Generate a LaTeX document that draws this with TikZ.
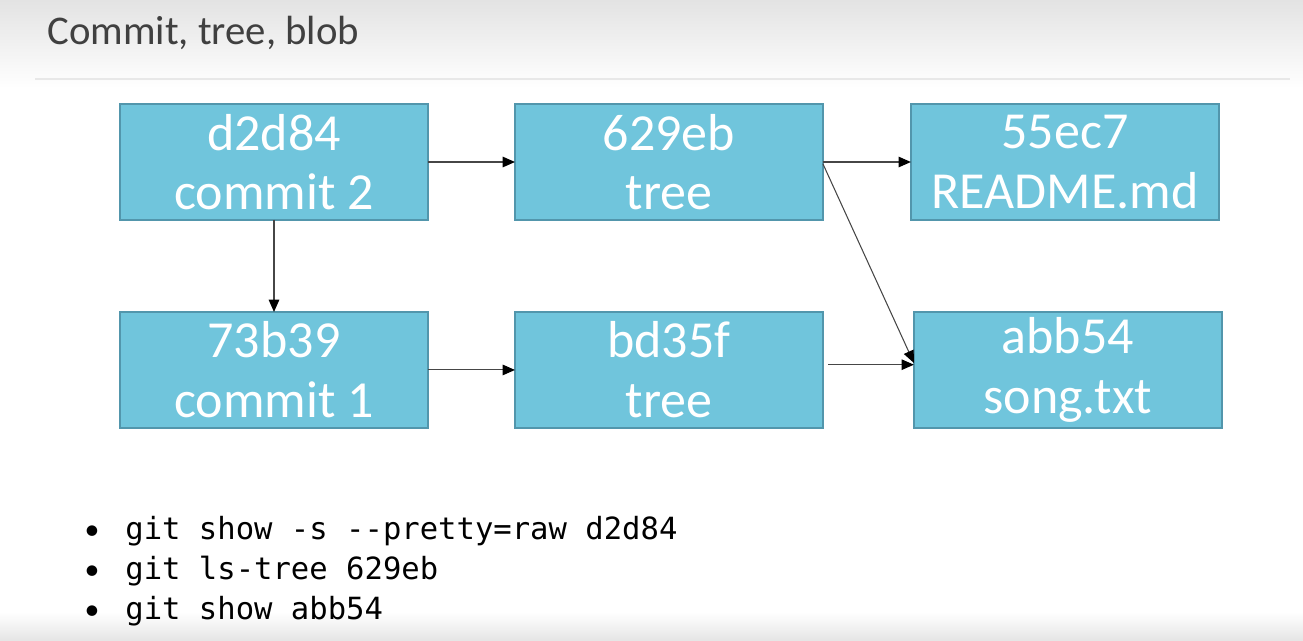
\documentclass[tikz,border=0pt]{standalone}
\usepackage{fontspec}
\setmainfont{Carlito}
\setmonofont{DejaVu Sans Mono}
\usetikzlibrary{arrows.meta,positioning}
\definecolor{boxfill}{RGB}{112,197,220}
\definecolor{boxline}{RGB}{82,150,172}
\definecolor{wire}{RGB}{70,70,70}
\tikzset{
	objnode/.style = {rectangle, draw=boxline, fill=boxfill, thick,
		minimum width=6.16cm, minimum height=2.32cm, inner sep=0pt,
		outer sep=0pt, align=center, text=white,
		font=\fontsize{29.6}{34}\selectfont},% objet git
	cmdline/.style = {anchor=base west, inner sep=0pt,
		font=\ttfamily\fontsize{17.4}{20}\selectfont},% commande
	bullet/.style = {anchor=base, inner sep=0pt,
		font=\fontsize{17}{20}\selectfont}
}
\begin{document}
\begin{tikzpicture}[x=0.02cm,y=-0.02cm,->,
	>={Triangle[length=7pt,width=6pt,color=black]},
	wire/.style={draw=wire, line width=0.6pt}]
\useasboundingbox (0,0) rectangle (1303,640);
% fond
\shade[top color=black!11, bottom color=white] (0,0) rectangle (1303,88);
\shade[top color=white, bottom color=black!10] (0,612) rectangle (1303,640);
\draw[-, black!9, line width=1pt] (35,79) -- (1290,79);
\node[anchor=base west, inner sep=0pt, text=black!75,
	font=\fontsize{23.2}{27}\selectfont] (title) at (47,44) {Commit, tree, blob};

% objets
\node [objnode] (d2d84) at (274,162) {d2d84\\commit 2};
\node [objnode, right=1.74cm of d2d84] (t629eb) {629eb\\tree};
\node [objnode, right=1.76cm of t629eb] (b55ec7) {55ec7\\README.md};
\node [objnode, below=1.84cm of d2d84] (c73b39) {73b39\\commit 1};
\node [objnode, right=1.74cm of c73b39] (tbd35f) {bd35f\\tree};
\node [objnode, right=1.82cm of tbd35f] (babb54) {abb54\\song.txt};

% liens
\draw[wire] (d2d84) -- (t629eb);
\draw[wire] (t629eb) -- (b55ec7);
\draw[wire] (d2d84) -- (c73b39);
\draw[wire] (c73b39) -- (tbd35f);
\draw[wire] ([yshift=-1pt]t629eb.east) -- ([yshift=4pt]babb54.west);
\draw[wire] ([shift={(3pt,3pt)}]tbd35f.east) -- ([yshift=3pt]babb54.west);

% commandes
\foreach \i/\y/\txt in {1/539/{git show -s -{}-pretty=raw d2d84},
	2/579/{git ls-tree 629eb}, 3/619/{git show abb54}} {
	\node[bullet] (dot\i) at (92,\y) {\textbullet};
	\node[cmdline] (cmd\i) at (125,\y) {\txt};
}
\end{tikzpicture}
\end{document}
